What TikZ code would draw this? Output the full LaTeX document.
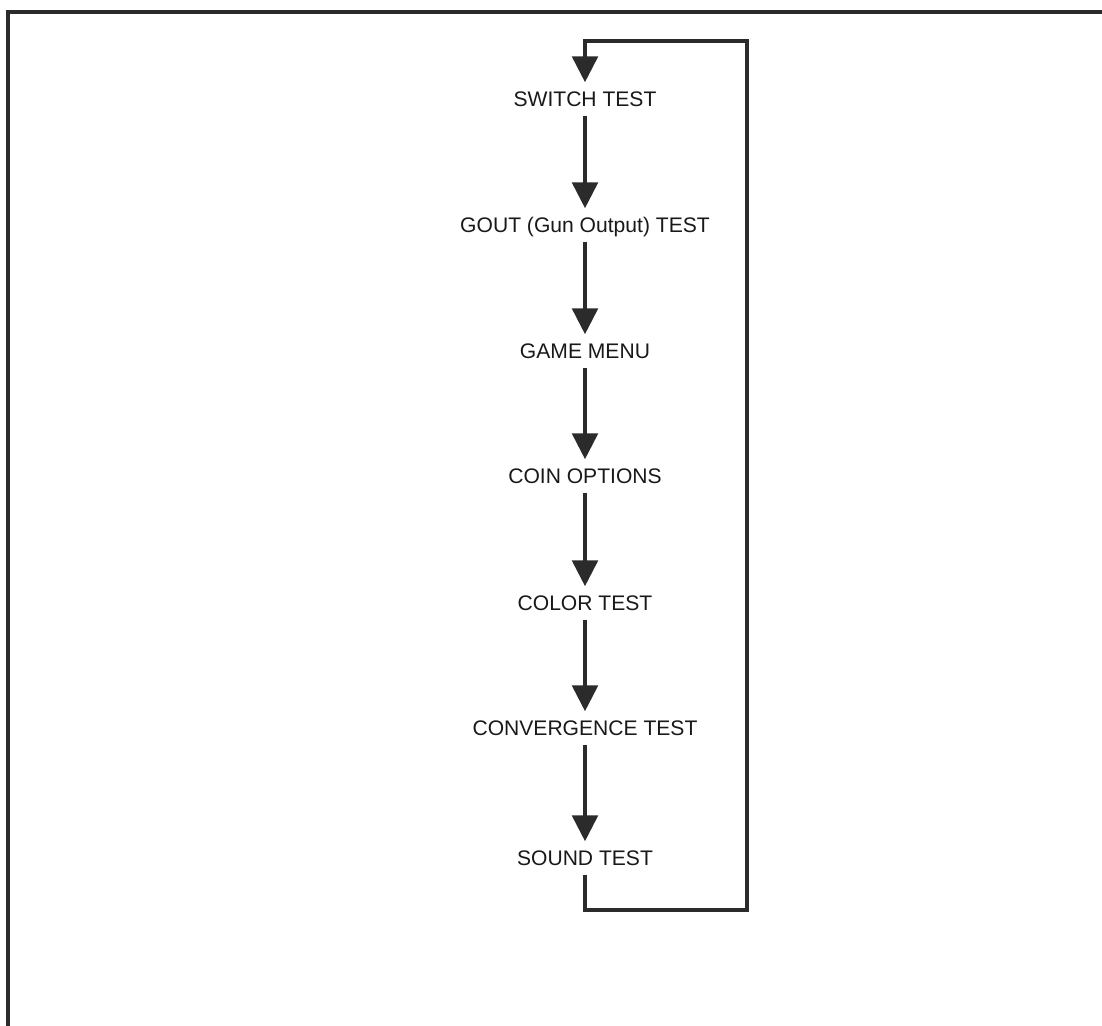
\documentclass[tikz,border=0pt]{standalone}
\usepackage{fontspec}
\setmainfont{Liberation Sans}
\usepackage{xcolor}
\usepackage{tikz}
\usetikzlibrary{arrows.meta}
\definecolor{inkx}{HTML}{2B2B2B}
\tikzset{
  ar/.style={-{Triangle[length=5.2mm,width=5.1mm]},line width=2.3pt,inkx,line join=miter},
  frm/.style={line width=1.8pt,inkx},
  lbl/.style={font=\fontsize{12}{14}\selectfont,text=black!90,text height=8.6pt,text depth=0pt,inner ysep=5pt,inner xsep=2pt}
}
\begin{document}
\begin{tikzpicture}[x=0.02cm,y=-0.02cm]
\useasboundingbox (0,0) rectangle (1102,1026);
\draw[frm] (8,1026)--(8,12)--(1102,12);
\node[lbl] (sw) at (585,99) {SWITCH TEST};
\node[lbl] (gout) at (585,225) {GOUT (Gun Output) TEST};
\node[lbl] (menu) at (585,351) {GAME MENU};
\node[lbl] (coin) at (585,476) {COIN OPTIONS};
\node[lbl] (color) at (585,603) {COLOR TEST};
\node[lbl] (conv) at (585,728) {CONVERGENCE TEST};
\node[lbl] (sound) at (585,858) {SOUND TEST};
\draw[ar] (sw)--(gout);
\draw[ar] (gout)--(menu);
\draw[ar] (menu)--(coin);
\draw[ar] (coin)--(color);
\draw[ar] (color)--(conv);
\draw[ar] (conv)--(sound);
% return loop
\coordinate (bl) at (585,910);
\coordinate (br) at (747,910);
\coordinate (tr) at (747,41);
\coordinate (tl) at (585,41);
\draw[ar] (sound.south)--(bl)--(br)--(tr)--(tl)--(sw);
\end{tikzpicture}
\end{document}
